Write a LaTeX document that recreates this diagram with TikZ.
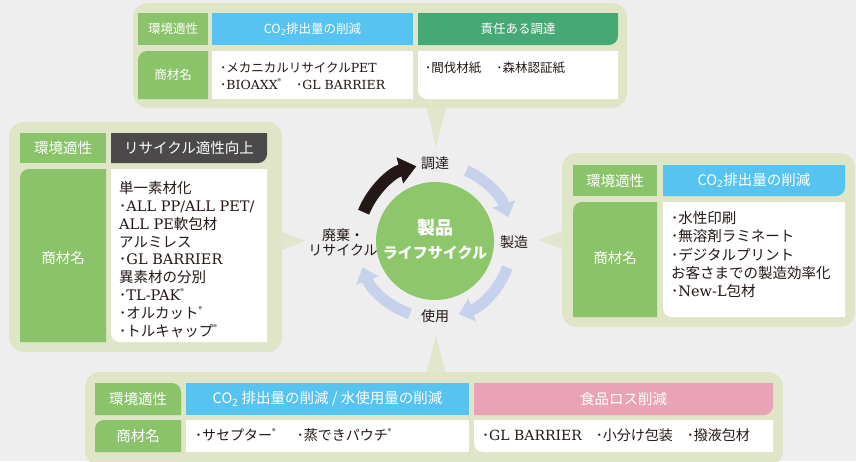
\documentclass[tikz,border=0pt]{standalone}
\usepackage{fontspec}
\setmainfont{Noto Sans CJK JP}
\newfontfamily\latnfont{DejaVu Serif}
\usetikzlibrary{arrows.meta}

\definecolor{PageGray}{HTML}{EEEEEE}
\definecolor{PanelTint}{HTML}{DFE5C7}
\definecolor{EnvGreen}{HTML}{8BC36A}
\definecolor{HeadBlue}{HTML}{56C3F0}
\definecolor{HeadGreen}{HTML}{46A874}
\definecolor{HeadGray}{HTML}{4B4949}
\definecolor{HeadPink}{HTML}{E8A3B6}
\definecolor{HubGreen}{HTML}{8EC76B}
\definecolor{CycleBlue}{HTML}{C6D1EC}
\definecolor{InkBrown}{HTML}{231815}

\newcommand{\latn}[1]{{\latnfont #1}}
\newcommand{\regmark}{\raisebox{0.4em}{\fontsize{7.5}{7.5}\selectfont ®}}
\newcommand{\cotwo}{CO\textsubscript{2}}
\newcommand{\topsize}{\fontsize{12.5}{17}\selectfont}
\newcommand{\sidesize}{\fontsize{14.5}{18}\selectfont}

\tikzset{
  panel/.style={fill=PanelTint, rounded corners=15pt},
  pointer/.style={fill=PanelTint, fill opacity=0.85},
  headlabel/.style={text=white, inner sep=0pt},
  itemlist/.style={text=InkBrown, align=left, anchor=west, inner sep=0pt},
  stagelabel/.style={text=InkBrown, align=center, inner sep=0pt, font=\fontsize{14}{15}\selectfont},
  cyclearrow/.style={draw=CycleBlue, line width=11pt, -{Triangle[width=23pt,length=14pt]}},
}

\begin{document}
\begin{tikzpicture}[x=1pt, y=-1pt]
	\useasboundingbox (0,0) rectangle (856,461);
	\fill[PageGray] (0,0) rectangle (856,461);% page
	
	% top panel: procurement
	\fill[panel] (133,3) rectangle (627,108);
	\fill[pointer] (427,108) -- (446,108) -- (436,147) -- cycle;
	\fill[EnvGreen] (138,13) rectangle (208,45);
	\fill[HeadBlue] (212,13) rectangle (413,45);
	\fill[HeadGreen] (418,45) -- (418,13) -- (618,13) [rounded corners=9pt] -- (618,45) [sharp corners] -- cycle;
	\fill[EnvGreen] (208,51) -- (208,99) -- (138,99) [rounded corners=9pt] -- (138,51) [sharp corners] -- cycle;
	\fill[white] (212,51) rectangle (413,99);
	\fill[white] (418,51) -- (618,51) -- (618,99) [rounded corners=9pt] -- (418,99) [sharp corners] -- cycle;
	\node[headlabel, font=\topsize] (TopEnv) at (173,29) {環境適性};
	\node[headlabel, font=\topsize] (TopCO) at (312.5,29) {\cotwo 排出量の削減};
	\node[headlabel, font=\topsize] (TopSource) at (518,29) {責任ある調達};
	\node[headlabel, font=\topsize] (TopItem) at (173,75) {商材名};
	\node[itemlist, font=\topsize] (TopListA) at (220,76.5) {･メカニカルリサイクル\latn{PET}\\･\latn{BIOAXX}\regmark\hspace{1.2em}･\latn{GL BARRIER}};
	\node[itemlist, font=\topsize] (TopListB) at (425,68) {･間伐材紙\hspace{1.2em}･森林認証紙};
	
	% left panel: disposal / recycling
	\fill[panel] (9,122) rectangle (282,352);
	\fill[pointer] (282,232) -- (305,241) -- (282,250) -- cycle;
	\fill[EnvGreen] (20,133) rectangle (106,163);
	\fill[HeadGray] (111,163) -- (111,133) -- (267,133) [rounded corners=9pt] -- (267,163) [sharp corners] -- cycle;
	\fill[EnvGreen] (106,169) -- (106,342) -- (20,342) [rounded corners=9pt] -- (20,169) [sharp corners] -- cycle;
	\fill[white] (111,169) -- (267,169) -- (267,342) [rounded corners=9pt] -- (111,342) [sharp corners] -- cycle;
	\node[headlabel, font=\sidesize] (LeftEnv) at (63,148) {環境適性};
	\node[headlabel, font=\sidesize] (LeftRecycle) at (189,148) {リサイクル適性向上};
	\node[headlabel, font=\sidesize] (LeftItem) at (63,258) {商材名};
	\node[itemlist, font=\fontsize{14.5}{17.9}\selectfont] (LeftList) at (119,259.5) {単一素材化\\･\latn{ALL PP/ALL PET/}\\\latn{ALL PE}軟包材\\アルミレス\\･\latn{GL BARRIER}\\異素材の分別\\･\latn{TL-PAK}\regmark\\･オルカット\regmark\\･トルキャップ\regmark};
	
	% right panel: manufacturing
	\fill[panel] (562,153) rectangle (855,327);
	\fill[pointer] (562,231) -- (538,240) -- (562,249) -- cycle;
	\fill[EnvGreen] (573,165) rectangle (657,196);
	\fill[HeadBlue] (663,196) -- (663,165) -- (845,165) [rounded corners=9pt] -- (845,196) [sharp corners] -- cycle;
	\fill[EnvGreen] (657,202) -- (657,317) -- (573,317) [rounded corners=9pt] -- (573,202) [sharp corners] -- cycle;
	\fill[white] (663,202) -- (845,202) -- (845,317) [rounded corners=9pt] -- (663,317) [sharp corners] -- cycle;
	\node[headlabel, font=\sidesize] (RightEnv) at (615,180.5) {環境適性};
	\node[headlabel, font=\sidesize] (RightCO) at (754,180.5) {\cotwo 排出量の削減};
	\node[headlabel, font=\sidesize] (RightItem) at (615,258) {商材名};
	\node[itemlist, font=\fontsize{14.5}{18.2}\selectfont] (RightList) at (671,254.5) {･水性印刷\\･無溶剤ラミネート\\･デジタルプリント\\お客さまでの製造効率化\\･\latn{New-L}包材};
	
	% bottom panel: use
	\fill[panel] (85,372) rectangle (783,466);
	\fill[pointer] (427,372) -- (436,335) -- (445,372) -- cycle;
	\fill[EnvGreen] (95,415) -- (95,383) [rounded corners=9pt] -- (181,383) [sharp corners] -- (181,415) -- cycle;
	\fill[HeadBlue] (186,383) rectangle (469,415);
	\fill[HeadPink] (474,415) -- (474,383) -- (773,383) [rounded corners=9pt] -- (773,415) [sharp corners] -- cycle;
	\fill[EnvGreen] (181,420) -- (181,452) -- (95,452) [rounded corners=9pt] -- (95,420) [sharp corners] -- cycle;
	\fill[white] (186,420) rectangle (469,452);
	\fill[white] (474,420) -- (773,420) -- (773,452) [rounded corners=9pt] -- (474,452) [sharp corners] -- cycle;
	\node[headlabel, font=\sidesize] (BottomEnv) at (138,399) {環境適性};
	\node[headlabel, font=\sidesize] (BottomCO) at (327.5,399) {\cotwo\ 排出量の削減 / 水使用量の削減};
	\node[headlabel, font=\sidesize] (BottomLoss) at (623.5,399) {食品ロス削減};
	\node[headlabel, font=\sidesize] (BottomItem) at (138,436) {商材名};
	\node[itemlist, font=\fontsize{14}{17}\selectfont] (BottomListA) at (195,435) {･サセプター\regmark\hspace{1.5em}･蒸できパウチ\regmark};
	\node[itemlist, font=\fontsize{14}{17}\selectfont] (BottomListB) at (482,435) {･\latn{GL BARRIER}\hspace{1em}･小分け包装\hspace{1em}･撥液包材};
	
	% life cycle hub
	\node[circle, fill=HubGreen, minimum size=118pt, inner sep=0pt] (Hub) at (435,241) {};
	\node[text=white, inner sep=0pt, font=\fontsize{18}{20}\selectfont\bfseries] (HubTitle) at (435,228) {製品};
	\node[text=white, inner sep=0pt, font=\fontsize{15}{17}\selectfont\bfseries] (HubSub) at (435,253) {ライフサイクル};
	
	\draw[cyclearrow] ([shift={(-66:77)}]Hub.center) arc[start angle=-66, end angle=-18, radius=77];% to manufacturing
	\draw[cyclearrow] ([shift={(20:77)}]Hub.center) arc[start angle=20, end angle=72, radius=77];% to use
	\draw[cyclearrow] ([shift={(109:77)}]Hub.center) arc[start angle=109, end angle=160, radius=77];% to disposal
	\draw[cyclearrow, draw=InkBrown, line width=12pt, -{Triangle[width=26pt,length=17pt]}] ([shift={(-158:77)}]Hub.center) arc[start angle=-158, end angle=-104, radius=77];% back to procurement
	
	\node[stagelabel] (Source) at (435,163) {調達};
	\node[stagelabel] (Make) at (514,242) {製造};
	\node[stagelabel] (Use) at (435,316) {使用};
	\node[stagelabel] (Dispose) at (343,242) {廃棄・\\リサイクル};
	
\end{tikzpicture}
\end{document}
